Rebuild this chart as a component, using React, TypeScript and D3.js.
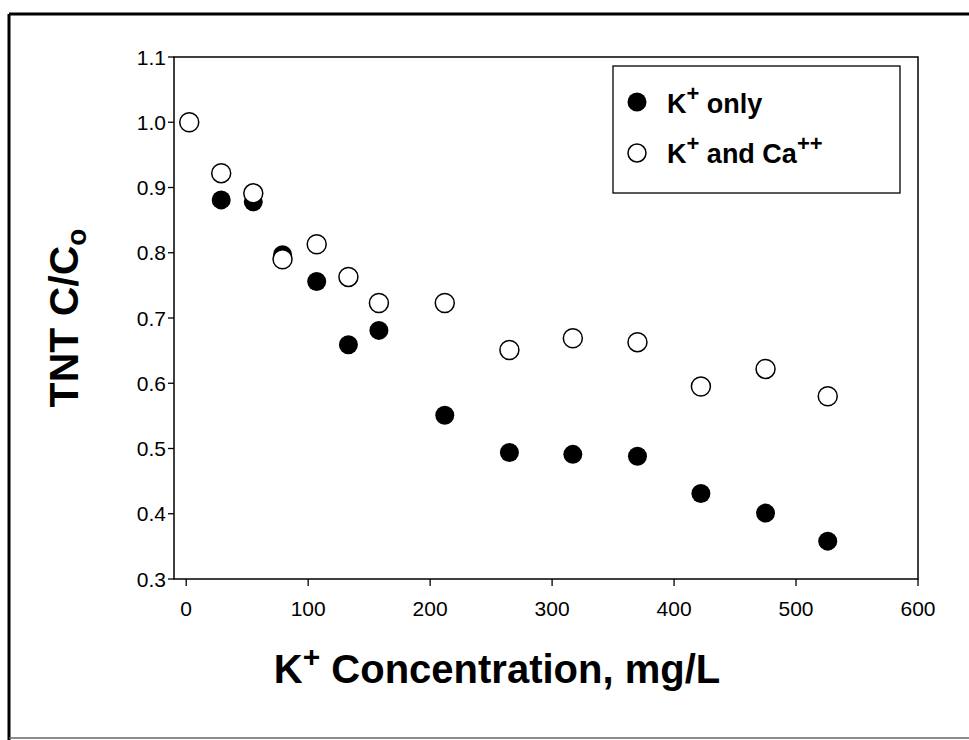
import React from "react";
import * as d3 from "d3";

const kOnlyX = [28.7, 55, 79, 107, 133, 158, 212, 265, 317, 370, 422, 475, 526];
const kOnly = [0.881, 0.878, 0.797, 0.756, 0.659, 0.681, 0.551, 0.494, 0.491, 0.488, 0.431, 0.401, 0.358];
const kCaX = [2.5, 28.7, 55, 79, 107, 133, 158, 212, 265, 317, 370, 422, 475, 526];
const kCa = [1.0, 0.922, 0.891, 0.79, 0.813, 0.763, 0.723, 0.723, 0.651, 0.669, 0.663, 0.595, 0.622, 0.58];
const xTicks = [0, 100, 200, 300, 400, 500, 600];
const yTicks = [0.3, 0.4, 0.5, 0.6, 0.7, 0.8, 0.9, 1.0, 1.1];

const W = 969;
const H = 740;
const L = 174, R = 918, T = 57, B = 579;

export default function App() {
  const x = d3.scaleLinear().domain([-10, 600]).range([L, R]);
  const y = d3.scaleLinear().domain([0.3, 1.1]).range([B, T]);
  const font = "'Liberation Sans', Arial, sans-serif";
  const r = 9.5;
  return (
    <svg width={W} height={H} style={{ position: "absolute", left: 0, top: 0, background: "#fff" }}>
      {/* outer frame */}
      <line x1={9} y1={14} x2={969} y2={14} stroke="#000" strokeWidth={3} />
      <line x1={9} y1={14} x2={9} y2={740} stroke="#000" strokeWidth={3} />
      <line x1={9} y1={738} x2={969} y2={738} stroke="#666" strokeWidth={1.5} />
      {/* plot frame */}
      <rect x={L} y={T} width={R - L} height={B - T} fill="none" stroke="#000" strokeWidth={1.5} />
      {/* y ticks */}
      {yTicks.map((t) => (
        <g key={"y" + t}>
          <line x1={L - 6} x2={L} y1={y(t)} y2={y(t)} stroke="#000" strokeWidth={1.3} />
          <text x={L - 8} y={y(t)} dy="0.36em" textAnchor="end" fontFamily={font} fontSize={21}>
            {t.toFixed(1)}
          </text>
        </g>
      ))}
      {/* x ticks */}
      {xTicks.map((t) => (
        <g key={"x" + t}>
          <line x1={x(t)} x2={x(t)} y1={B} y2={B + 7} stroke="#000" strokeWidth={1.3} />
          <text x={x(t)} y={B + 37} textAnchor="middle" fontFamily={font} fontSize={21}>
            {t}
          </text>
        </g>
      ))}
      {/* data */}
      {kOnlyX.map((v, i) => (
        <circle key={"f" + i} cx={x(v)} cy={y(kOnly[i])} r={r} fill="#000" />
      ))}
      {kCaX.map((v, i) => (
        <circle key={"o" + i} cx={x(v)} cy={y(kCa[i])} r={r} fill="#fff" stroke="#000" strokeWidth={1.5} />
      ))}
      {/* legend */}
      <rect x={613} y={66} width={287} height={127} fill="#fff" stroke="#000" strokeWidth={1.3} />
      <circle cx={637} cy={102} r={9.5} fill="#000" />
      <circle cx={637} cy={153} r={9} fill="#fff" stroke="#000" strokeWidth={1.5} />
      <text x={667} y={113} fontFamily={font} fontSize={27} fontWeight="bold">
        K<tspan dy={-12} fontSize={22}>+</tspan>
        <tspan dy={12}> only</tspan>
      </text>
      <text x={667} y={163} fontFamily={font} fontSize={27} fontWeight="bold">
        K<tspan dy={-12} fontSize={22}>+</tspan>
        <tspan dy={12}> and Ca</tspan>
        <tspan dy={-12} fontSize={22}>++</tspan>
      </text>
      {/* axis titles */}
      <text x={497} y={683} textAnchor="middle" fontFamily={font} fontSize={40} fontWeight="bold">
        K<tspan dy={-16} fontSize={30}>+</tspan>
        <tspan dy={16}> Concentration, mg/L</tspan>
      </text>
      <text
        transform={`translate(78, 318) rotate(-90)`}
        textAnchor="middle"
        fontFamily={font}
        fontSize={41}
        fontWeight="bold"
      >
        TNT C/C<tspan dy={8} fontSize={28}>o</tspan>
      </text>
    </svg>
  );
}
